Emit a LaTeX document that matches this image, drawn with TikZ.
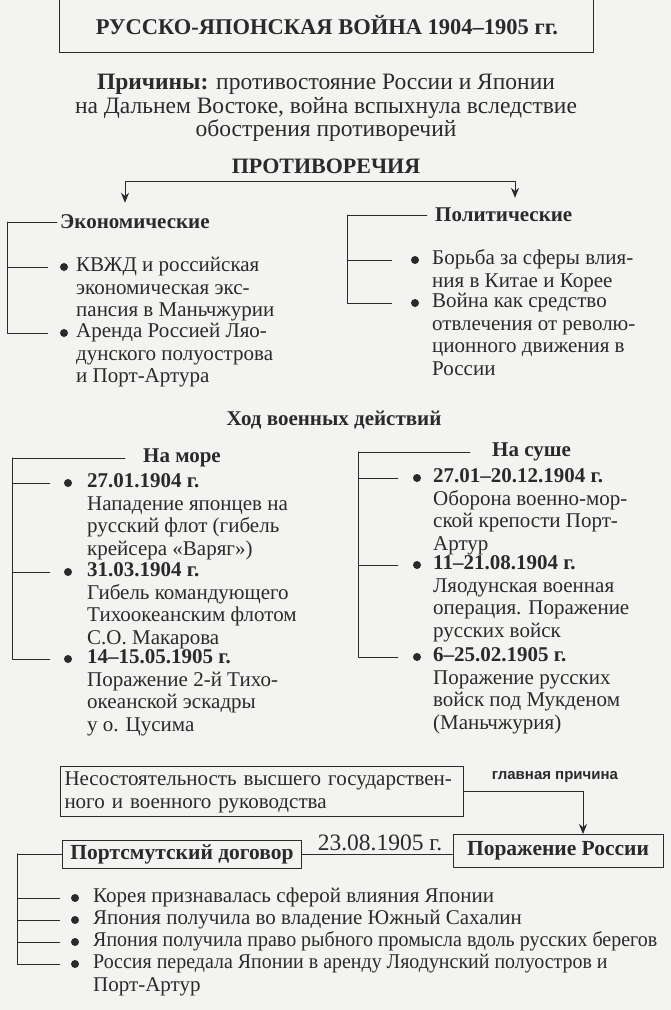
\documentclass[tikz,border=0pt]{standalone}
\usepackage{fontspec}
\setmainfont{Liberation Serif}
\newfontfamily\notefont{Liberation Sans}
\usetikzlibrary{arrows.meta}
\definecolor{ink}{HTML}{2A2A2A}
\definecolor{paper}{HTML}{F3F3F1}
\newcommand\txtsize{\fontsize{21}{22.5}\selectfont}
\newcommand\bigsize{\fontsize{23.5}{22.5}\selectfont}

\begin{document}
\begin{tikzpicture}[x=1pt,y=-1pt,line join=round,line cap=round,>={Stealth[length=10pt,width=8pt]},
  every node/.style={text=ink},
  item/.style={anchor=north west,inner sep=0pt,align=left,font=\txtsize},
  head/.style={anchor=west,inner sep=0pt,font=\txtsize\bfseries},
  dot/.style={circle,fill=ink,inner sep=0pt,minimum size=8pt},
  brk/.style={draw=ink,line width=0.8pt},
  frame/.style={draw=ink,line width=1pt}]
\fill[paper] (0,0) rectangle (671,1010);
\useasboundingbox (0,0) rectangle (671,1010);

% title and causes
\draw[frame] (59,-20) rectangle (593,52);
\node[font=\fontsize{22.5}{26}\selectfont\bfseries] (title) at (327,25) {РУССКО-ЯПОНСКАЯ ВОЙНА 1904–1905 гг.};
\node[anchor=north,inner sep=0pt,align=center,font=\bigsize] (cause) at (326,74) {\strut\textbf{Причины:} противостояние России и Японии\\на Дальнем Востоке, война вспыхнула вследствие\\обострения противоречий};
\node[font=\fontsize{22}{26}\selectfont\bfseries] (contr) at (326,166) {ПРОТИВОРЕЧИЯ};

\node[head] (econ) at (60,222) {Экономические};
\node[head] (pol) at (435,215) {Политические};
\coordinate (cl) at (125,181);
\coordinate (cr) at (515,181);
\draw[brk,<->,shorten <=12pt,shorten >=10pt] (econ.north -| cl) -- (cl) -- (cr) -- (pol.north -| cr);

% economic
\node[item] (e1) at (76,256) {\strut КВЖД и российская\\экономическая экс-\\пансия в Маньчжурии};
\node[item] (e2) at (76,322) {\strut Аренда Россией Ляо-\\дунского полуострова\\и Порт-Артура};
\node[dot] (ed1) at (64,267) {};
\node[dot] (ed2) at (64,333) {};
\coordinate (ev) at (7,222);
\draw[brk,shorten >=12pt] ([xshift=-3pt]econ.west) -- (ev) |- (ed2);
\draw[brk,shorten >=12pt] (ev) |- (ed1);

% political
\node[item] (p1) at (432,249) {\strut Борьба за сферы влия-\\ния в Китае и Корее};
\node[item] (p2) at (432,292) {\strut Война как средство\\отвлечения от револю-\\ционного движения в\\России};
\node[dot] (pd1) at (415,260) {};
\node[dot] (pd2) at (415,303) {};
\coordinate (pv) at (347,215);
\draw[brk,shorten >=19pt] ([xshift=-8pt]pol.west) -- (pv) |- (pd2);
\draw[brk,shorten >=19pt] (pv) |- (pd1);

% war course
\node[head,anchor=center] (course) at (334,420) {Ход военных действий};

\node[head] (sea) at (143,458) {На море};
\node[item] (s1) at (87,472) {\strut\textbf{27.01.1904 г.}\\Нападение японцев на\\русский флот (гибель\\крейсера «Варяг»)};
\node[item] (s2) at (87,561) {\strut\textbf{31.03.1904 г.}\\Гибель командующего\\Тихоокеанским флотом\\С.О. Макарова};
\node[item] (s3) at (87,648) {\strut\textbf{14–15.05.1905 г.}\\Поражение 2-й Тихо-\\океанской эскадры\\у о. Цусима};
\node[dot] (sd1) at (68,483) {};
\node[dot] (sd2) at (68,572) {};
\node[dot] (sd3) at (68,659) {};
\coordinate (sv) at (12,458);
\draw[brk,shorten >=14pt] ([xshift=-18pt]sea.west) -- (sv) |- (sd3);
\draw[brk,shorten >=14pt] (sv) |- (sd1);
\draw[brk,shorten >=14pt] (sv) |- (sd2);

\node[head] (land) at (492,452) {На суше};
\node[item] (l1) at (433,467) {\strut\textbf{27.01–20.12.1904 г.}\\Оборона военно-мор-\\ской крепости Порт-\\Артур};
\node[item] (l2) at (433,554) {\strut\textbf{11–21.08.1904 г.}\\Ляодунская военная\\операция. Поражение\\русских войск};
\node[item] (l3) at (433,646) {\strut\textbf{6–25.02.1905 г.}\\Поражение русских\\войск под Мукденом\\(Маньчжурия)};
\node[dot] (ld1) at (417,478) {};
\node[dot] (ld2) at (417,565) {};
\node[dot] (ld3) at (417,657) {};
\coordinate (lv) at (358,452);
\draw[brk,shorten >=15pt] ([xshift=-22pt]land.west) -- (lv) |- (ld3);
\draw[brk,shorten >=15pt] (lv) |- (ld1);
\draw[brk,shorten >=15pt] (lv) |- (ld2);

% outcome
\node[item,frame,text width=395pt,inner xsep=4pt,inner ysep=3.5pt] (fail) at (60,766) {\strut Несостоятельность высшего государствен-\\ного и военного руководства};
\node[font=\notefont\bfseries\fontsize{15}{18}\selectfont] (main) at (555,777) {главная причина};
\node[frame,font=\fontsize{21.5}{24}\selectfont\bfseries,minimum width=210pt,minimum height=33pt] (defeat) at (558,851) {Поражение России};
\node[frame,font=\fontsize{21.5}{24}\selectfont\bfseries,minimum width=239pt,minimum height=28pt] (treaty) at (182,854) {Портсмутский договор};
\node[font=\bigsize] (date) at (380,843) {23.08.1905 г.};
\draw[brk,->] (fail.east) -| ([xshift=25pt]defeat.north);
\draw[brk] (treaty.east) -- (treaty.east -| defeat.west);

\node[item] (t1) at (93,887) {\strut Корея признавалась сферой влияния Японии};
\node[item] (t2) at (93,909) {\strut Япония получила во владение Южный Сахалин};
\node[item] (t3) at (93,931) {\strut\scalebox{0.95}[1]{Япония получила право рыбного промысла вдоль русских берегов}};
\node[item] (t4) at (93,953) {\strut\scalebox{0.95}[1]{Россия передала Японии в аренду Ляодунский полуостров и}\\Порт-Артур};
\node[dot] (td1) at (75,898) {};
\node[dot] (td2) at (75,920) {};
\node[dot] (td3) at (75,942) {};
\node[dot] (td4) at (75,964) {};
\coordinate (tv) at (17,854);
\draw[brk,shorten >=11pt] (treaty.west) -- (tv) |- (td4);
\foreach \i in {1,2,3}
  \draw[brk,shorten >=11pt] (tv) |- (td\i);
\end{tikzpicture}
\end{document}
